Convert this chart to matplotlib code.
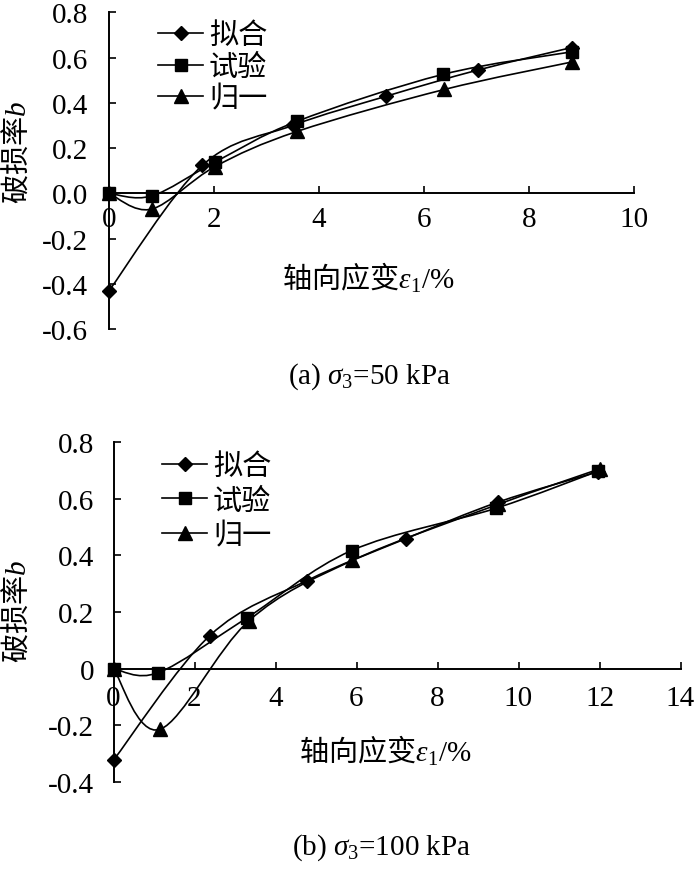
import numpy as np
import matplotlib
matplotlib.use('Agg')
import matplotlib.pyplot as plt
from matplotlib.path import Path
from matplotlib.patches import PathPatch
from matplotlib.lines import Line2D

plt.rcParams['axes.unicode_minus'] = False
plt.rcParams['mathtext.fontset'] = 'custom'
plt.rcParams['mathtext.rm'] = 'Liberation Serif'
plt.rcParams['mathtext.it'] = 'Liberation Serif:italic'
plt.rcParams['mathtext.bf'] = 'Liberation Serif:bold'

SERIF = 'Liberation Serif'
CJK = 'Noto Sans CJK SC'
FS = 21

# 图例名称与标记
names = ['拟合', '试验', '归一']
markers = ['D', 's', '^']
msizes = [6.8, 8.2, 9.5]

# (a) σ3 = 50 kPa
a_fit_x = [0, 1.78, 3.50, 5.28, 7.03, 8.81]
a_fit_y = [-0.431, 0.124, 0.300, 0.429, 0.545, 0.644]
a_test_x = [0, 0.81, 2.02, 3.58, 6.37, 8.81]
a_test_y = [0, -0.012, 0.138, 0.318, 0.526, 0.625]
a_norm_x = [0, 0.81, 2.02, 3.59, 6.39, 8.81]
a_norm_y = [0, -0.070, 0.118, 0.274, 0.459, 0.580]
a_xticks = [0, 2, 4, 6, 8, 10]
a_yticks = [-0.6, -0.4, -0.2, 0.0, 0.2, 0.4, 0.6, 0.8]
a_yticklabels = ['-0.6', '-0.4', '-0.2', '0.0', '0.2', '0.4', '0.6', '0.8']

# (b) σ3 = 100 kPa
b_fit_x = [0, 2.38, 4.78, 7.22, 9.50, 11.96]
b_fit_y = [-0.323, 0.117, 0.311, 0.459, 0.588, 0.695]
b_test_x = [0, 1.11, 3.29, 5.88, 9.44, 11.96]
b_test_y = [0, -0.014, 0.179, 0.417, 0.566, 0.697]
b_norm_x = [0, 1.15, 3.35, 5.90, 9.50, 12.00]
b_norm_y = [0, -0.214, 0.170, 0.382, 0.580, 0.705]
b_xticks = [0, 2, 4, 6, 8, 10, 12, 14]
b_yticks = [-0.4, -0.2, 0, 0.2, 0.4, 0.6, 0.8]
b_yticklabels = ['-0.4', '-0.2', '0', '0.2', '0.4', '0.6', '0.8']


def smooth_path(x, y):
    """Excel 风格的平滑线 (Catmull-Rom 转 Bezier)"""
    p = np.column_stack([x, y]).astype(float)
    n = len(p)
    verts = [p[0]]
    codes = [Path.MOVETO]
    for i in range(n - 1):
        p0 = p[i - 1] if i > 0 else p[i]
        p3 = p[i + 2] if i + 2 < n else p[i + 1]
        c1 = p[i] + (p[i + 1] - p0) / 6
        c2 = p[i + 1] - (p3 - p[i]) / 6
        verts += [c1, c2, p[i + 1]]
        codes += [Path.CURVE4] * 3
    return Path(verts, codes)


def draw_panel(ax, series, xticks, yticks, yticklabels, xpad, ypad):
    # 先移动坐标轴位置 (会重置刻度)
    ax.spines['top'].set_visible(False)
    ax.spines['right'].set_visible(False)
    ax.spines['bottom'].set_position(('data', 0))
    for s in ['left', 'bottom']:
        ax.spines[s].set_linewidth(1.4)

    for (x, y), m, ms in zip(series, markers, msizes):
        ax.add_patch(PathPatch(smooth_path(x, y), fill=False, lw=1.2,
                               ec='black', clip_on=False, zorder=3))
        ax.plot(x, y, ls='none', marker=m, ms=ms, color='black',
                clip_on=False, zorder=4)
    ax.set_xlim(xticks[0], xticks[-1])
    ax.set_ylim(yticks[0], yticks[-1])
    ax.set_xticks(xticks)
    ax.set_xticklabels([str(t) for t in xticks], family=SERIF, fontsize=FS)
    ax.set_yticks(yticks)
    ax.set_yticklabels(yticklabels, family=SERIF, fontsize=FS)
    ax.tick_params(axis='x', direction='in', length=5, width=1.2, pad=xpad)
    ax.tick_params(axis='y', direction='in', length=5, width=1.2, pad=ypad)


def add_legend(ax, fig, x_px, y_px, spacing):
    handles = [Line2D([], [], color='black', lw=1.2, marker=m, ms=ms)
               for m, ms in zip(markers, msizes)]
    ax.legend(handles, names, loc='upper left',
              bbox_to_anchor=(x_px / 700, 1 - y_px / 870),
              bbox_transform=fig.transFigure, frameon=False,
              prop={'family': CJK, 'size': FS}, borderpad=0,
              borderaxespad=0, handlelength=1.55, handletextpad=0.2,
              labelspacing=spacing)


fig = plt.figure(figsize=(7, 8.7), dpi=100)

# 上图 (a)
ax1 = fig.add_axes([109 / 700, 1 - 330 / 870, 525 / 700, 316.7 / 870])
draw_panel(ax1, [(a_fit_x, a_fit_y), (a_test_x, a_test_y), (a_norm_x, a_norm_y)],
           a_xticks, a_yticks, a_yticklabels, xpad=9, ypad=15)
add_legend(ax1, fig, 158, 21, 0.06)
fig.text(17 / 700, 1 - 152 / 870, '破损率$b$', rotation=90, ha='center',
         va='center', family=CJK, fontsize=FS)
fig.text(368 / 700, 1 - 279 / 870, '轴向应变$\\varepsilon_1/\\%$', ha='center',
         va='center', family=CJK, fontsize=FS)
fig.text(370 / 700, 1 - 377 / 870, '(a) $\\sigma_3$=50 kPa', ha='center',
         va='center', family=SERIF, fontsize=FS)

# 下图 (b)
ax2 = fig.add_axes([113.5 / 700, 1 - 783 / 870, 567 / 700, 340 / 870])
draw_panel(ax2, [(b_fit_x, b_fit_y), (b_test_x, b_test_y), (b_norm_x, b_norm_y)],
           b_xticks, b_yticks, b_yticklabels, xpad=12, ypad=14)
add_legend(ax2, fig, 162, 452, 0.16)
fig.text(17 / 700, 1 - 611 / 870, '破损率$b$', rotation=90, ha='center',
         va='center', family=CJK, fontsize=FS)
fig.text(385 / 700, 1 - 752 / 870, '轴向应变$\\varepsilon_1/\\%$', ha='center',
         va='center', family=CJK, fontsize=FS)
fig.text(382 / 700, 1 - 848 / 870, '(b) $\\sigma_3$=100 kPa', ha='center',
         va='center', family=SERIF, fontsize=FS)

fig.savefig('out.png', dpi=100)
